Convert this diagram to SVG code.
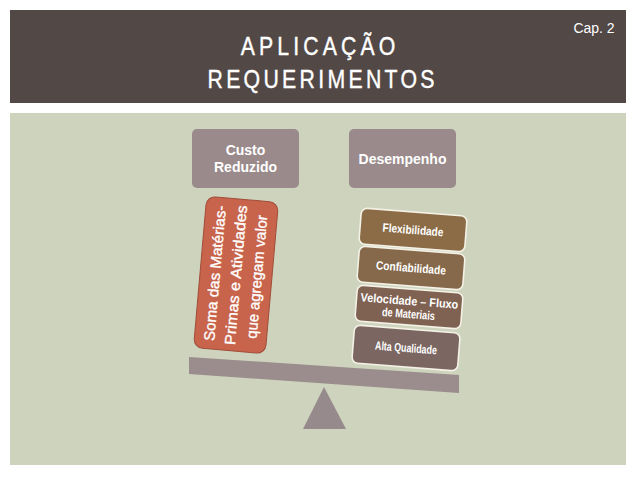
<svg xmlns="http://www.w3.org/2000/svg" width="638" height="479" viewBox="0 0 638 479">
<style>
.t{font-family:"Liberation Sans",Arial,sans-serif;fill:#fff}
.title{font-size:25px;text-anchor:middle;stroke:#fff;stroke-width:0.4}
.nb{fill:#9a8a8b}
.nt{font-size:14px;font-weight:bold;text-anchor:middle}
.sb{stroke:#f4f1e6;stroke-width:1.6}
.st{font-size:12px;font-weight:bold;text-anchor:middle}
.red{font-size:15px;text-anchor:middle;stroke:#fff;stroke-width:0.35}
</style>
<rect width="638" height="479" fill="#fff"/>
<g id="header">
<rect x="10" y="10" width="616" height="93" fill="#524846"/>
<g transform="scale(0.85,1)">
<text class="t title" x="374.1" y="55" textLength="182" lengthAdjust="spacing">APLICAÇÃO</text>
<text class="t title" x="377.6" y="88" textLength="267" lengthAdjust="spacing">REQUERIMENTOS</text>
</g>
<text class="t" x="594" y="33" font-size="14" text-anchor="middle">Cap. 2</text>
</g>
<rect id="panel" x="10" y="113" width="616" height="352" fill="#cdd3bc"/>
<g id="custo">
<rect class="nb" x="192" y="129" width="107" height="59" rx="5"/>
<text class="t nt" x="245.5" y="155">Custo</text>
<text class="t nt" x="245.5" y="172">Reduzido</text>
</g>
<g id="desempenho">
<rect class="nb" x="349" y="129" width="107" height="59" rx="5"/>
<text class="t nt" x="402.5" y="164">Desempenho</text>
</g>
<g id="soma" transform="translate(236,275) rotate(5)">
<rect x="-36" y="-76" width="72" height="152" rx="9" fill="#c8644b" stroke="#a04e3a" stroke-width="1"/>
<g transform="rotate(-90)">
<text class="t red" x="0" y="-16" textLength="136" lengthAdjust="spacingAndGlyphs">Soma das Matérias-</text>
<text class="t red" x="0" y="5" textLength="140" lengthAdjust="spacingAndGlyphs">Primas e Atividades</text>
<text class="t red" x="0" y="26" textLength="124" lengthAdjust="spacingAndGlyphs">que agregam valor</text>
</g>
</g>
<g id="flexibilidade" transform="translate(413,230) rotate(4.5)">
<rect class="sb" x="-53" y="-18" width="106" height="36" rx="6" fill="#8b6c46"/>
<text class="t st" x="0" y="4" textLength="61" lengthAdjust="spacingAndGlyphs">Flexibilidade</text>
</g>
<g id="confiabilidade" transform="translate(411,268) rotate(4.5)">
<rect class="sb" x="-53" y="-18" width="106" height="36" rx="6" fill="#86694a"/>
<text class="t st" x="0" y="4" textLength="70" lengthAdjust="spacingAndGlyphs">Confiabilidade</text>
</g>
<g id="velocidade" transform="translate(409,307) rotate(4.5)">
<rect class="sb" x="-53" y="-18" width="106" height="36" rx="6" fill="#7f6252"/>
<text class="t st" x="0" y="-2" textLength="98" lengthAdjust="spacingAndGlyphs">Velocidade – Fluxo</text>
<text class="t st" x="0" y="11" textLength="53" lengthAdjust="spacingAndGlyphs">de Materiais</text>
</g>
<g id="qualidade" transform="translate(406,348) rotate(4.5)">
<rect class="sb" x="-53" y="-19" width="106" height="38" rx="6" fill="#7b6662"/>
<text class="t st" x="0" y="4" textLength="62" lengthAdjust="spacingAndGlyphs">Alta Qualidade</text>
</g>
<g id="balanca">
<polygon points="189,357 459,375 459,393 189,374" fill="#9b8c8d"/>
<polygon points="324,387 346,429 303,429" fill="#978a8c"/>
</g>
</svg>
